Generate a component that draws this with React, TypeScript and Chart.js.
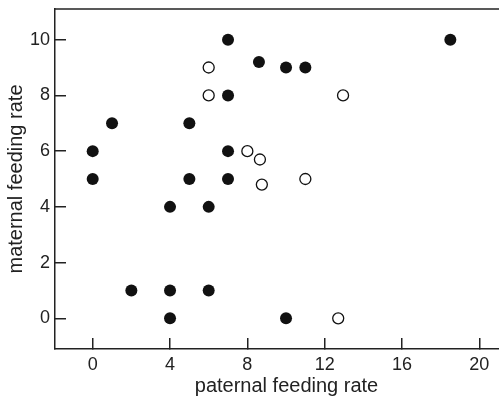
import React, { useEffect, useRef } from "react";
import { Chart, registerables } from "chart.js";

Chart.register(...registerables);

const xTicks = [0, 4, 8, 12, 16, 20];
const yTicks = [0, 2, 4, 6, 8, 10];

const filledX = [0, 0, 1, 2, 4, 4, 4, 5, 5, 6, 6, 7, 7, 7, 7, 8.6, 10, 11, 10, 18.5];
const filledY = [6, 5, 7, 1, 4, 1, 0, 7, 5, 4, 1, 10, 8, 6, 5, 9.2, 9, 9, 0, 10];

const openX = [6, 6, 8, 8.65, 8.75, 11, 12.95, 12.7];
const openY = [9, 8, 6, 5.7, 4.8, 5, 8, 0];

const xTitle = "paternal feeding rate";
const yTitle = "maternal feeding rate";

const FONT = "'Liberation Sans', Arial, Helvetica, sans-serif";
const INK = "#222";

const topBorder = {
  id: "topBorder",
  afterDraw(chart: any) {
    const { ctx, chartArea } = chart;
    ctx.save();
    ctx.strokeStyle = INK;
    ctx.lineWidth = 1.5;
    ctx.beginPath();
    ctx.moveTo(chartArea.left, chartArea.top);
    ctx.lineTo(chartArea.right, chartArea.top);
    ctx.stroke();
    ctx.restore();
  },
};

const noPad = (axis: any) => {
  axis.paddingTop = 0;
  axis.paddingBottom = 0;
  axis.paddingLeft = 0;
  axis.paddingRight = 0;
};

export default function App() {
  const ref = useRef<HTMLCanvasElement>(null);
  useEffect(() => {
    if (!ref.current) return;
    const chart = new Chart(ref.current, {
      type: "scatter",
      data: {
        datasets: [
          {
            label: "filled",
            data: filledX.map((x, i) => ({ x, y: filledY[i] })),
            backgroundColor: "#111",
            borderColor: "#111",
            pointRadius: 6,
            borderWidth: 0,
          },
          {
            label: "open",
            data: openX.map((x, i) => ({ x, y: openY[i] })),
            backgroundColor: "#fff",
            borderColor: "#111",
            pointRadius: 5.5,
            borderWidth: 1.3,
          },
        ],
      },
      options: {
        animation: false,
        responsive: false,
        devicePixelRatio: 1,
        layout: { autoPadding: false, padding: { top: 9, right: 0, bottom: 0, left: 0 } },
        plugins: { legend: { display: false }, tooltip: { enabled: false } },
        scales: {
          x: {
            type: "linear",
            min: -1.95,
            max: 22,
            afterBuildTicks: (axis: any) => {
              axis.ticks = xTicks.map((v) => ({ value: v }));
            },
            afterFit: (axis: any) => {
              axis.height = 54;
              noPad(axis);
            },
            grid: {
              drawOnChartArea: false,
              drawTicks: true,
              tickLength: -11,
              color: INK,
              lineWidth: 1.5,
            },
            border: { display: true, color: INK, width: 1.5 },
            ticks: {
              padding: 16,
              color: INK,
              font: { family: FONT, size: 18 },
              maxRotation: 0,
            },
            title: {
              display: true,
              text: xTitle,
              color: INK,
              font: { family: FONT, size: 20 },
              padding: { top: 0, bottom: 5 },
            },
          },
          y: {
            type: "linear",
            min: -1.1,
            max: 11.1,
            afterBuildTicks: (axis: any) => {
              axis.ticks = yTicks.map((v) => ({ value: v }));
            },
            afterFit: (axis: any) => {
              axis.width = 55;
              noPad(axis);
            },
            grid: {
              drawOnChartArea: false,
              drawTicks: true,
              tickLength: -11,
              color: INK,
              lineWidth: 1.5,
            },
            border: { display: true, color: INK, width: 1.5 },
            ticks: {
              padding: 16,
              color: INK,
              font: { family: FONT, size: 18 },
            },
            title: {
              display: true,
              text: yTitle,
              color: INK,
              font: { family: FONT, size: 20 },
              padding: { top: 4, bottom: 0 },
            },
          },
        },
      },
      plugins: [topBorder],
    });
    return () => chart.destroy();
  }, []);
  return (
    <div style={{ position: "absolute", left: 0, top: 0, width: 499, height: 403, overflow: "hidden", background: "#fff" }}>
      <canvas ref={ref} width={518} height={403} />
    </div>
  );
}
